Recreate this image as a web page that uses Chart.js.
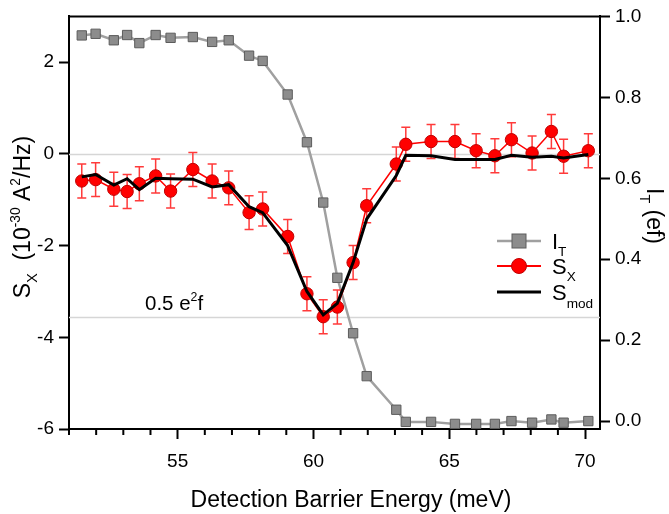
<!DOCTYPE html>
<html><head><meta charset="utf-8">
<script src="https://cdn.jsdelivr.net/npm/chart.js@4"></script>
<style>html,body{margin:0;padding:0;background:#fff}canvas{display:block}</style>
</head><body>
<canvas id="c" width="669" height="514"></canvas>
<script>
// ---- data ----
const energy = [51.47, 51.98, 52.65, 53.14, 53.59, 54.19, 54.74, 55.56, 56.27, 56.88, 57.63, 58.13, 59.05, 59.76, 60.36, 60.88, 61.46, 61.96, 63.05, 63.40, 64.33, 65.21, 65.99, 66.68, 67.29, 68.05, 68.76, 69.21, 70.12];
const currentIT = [0.953, 0.957, 0.941, 0.954, 0.934, 0.954, 0.947, 0.949, 0.937, 0.941, 0.903, 0.890, 0.807, 0.689, 0.540, 0.354, 0.217, 0.111, 0.028, -0.002, -0.002, -0.007, -0.007, -0.007, 0.000, -0.004, 0.004, -0.004, 0.000];
const noiseSX = [-0.59, -0.56, -0.77, -0.82, -0.65, -0.48, -0.81, -0.34, -0.59, -0.74, -1.28, -1.20, -1.80, -3.05, -3.55, -3.34, -2.37, -1.13, -0.22, 0.21, 0.27, 0.27, 0.07, -0.04, 0.31, 0.02, 0.49, -0.05, 0.07];
const noiseSXErr = [0.37, 0.37, 0.37, 0.37, 0.37, 0.37, 0.37, 0.37, 0.37, 0.37, 0.37, 0.37, 0.37, 0.37, 0.37, 0.37, 0.37, 0.37, 0.37, 0.37, 0.37, 0.37, 0.37, 0.37, 0.37, 0.37, 0.37, 0.37, 0.37];
const noiseSmod = [-0.50, -0.45, -0.68, -0.54, -0.78, -0.53, -0.54, -0.55, -0.72, -0.67, -1.15, -1.28, -2.00, -3.00, -3.51, -3.26, -2.37, -1.42, -0.47, -0.03, -0.04, -0.12, -0.12, -0.12, -0.03, -0.07, -0.05, -0.09, -0.01];
const xMajorTicks = [55, 60, 65, 70];
const leftTickValues = [-6, -4, -2, 0, 2];
const rightTickValues = [0.0, 0.2, 0.4, 0.6, 0.8, 1.0];
const refLevels = [0, -3.55];

const FF = '"Liberation Sans", Arial, Helvetica, sans-serif';

function drawRich(ctx, segs, x, y, angle, base, align) {
  ctx.save();
  ctx.translate(x, y);
  ctx.rotate(angle);
  ctx.textBaseline = 'alphabetic';
  ctx.textAlign = 'left';
  let total = 0;
  const widths = segs.map(s => { ctx.font = (base * (s.s || 1)) + 'px ' + FF; const w = ctx.measureText(s.t).width; total += w; return w; });
  let cx = align === 'left' ? 0 : -total / 2;
  segs.forEach((s, i) => {
    ctx.font = (base * (s.s || 1)) + 'px ' + FF;
    ctx.fillText(s.t, cx, (s.dy || 0) * base);
    cx += widths[i];
  });
  ctx.restore();
}

const deco = {
  id: 'deco',
  beforeDatasetsDraw(chart) {
    const { ctx, chartArea: a, scales: { y } } = chart;
    ctx.save();
    ctx.strokeStyle = '#d6d6d6';
    ctx.lineWidth = 1.5;
    refLevels.forEach(v => {
      const py = Math.round(y.getPixelForValue(v)) + 0.5;
      ctx.beginPath(); ctx.moveTo(a.left, py); ctx.lineTo(a.right, py); ctx.stroke();
    });
    ctx.restore();
  },
  beforeDatasetDraw(chart, args) {
    if (args.index !== 1) return;
    const meta = chart.getDatasetMeta(1);
    const y = chart.scales.y;
    const ctx = chart.ctx;
    ctx.save();
    ctx.strokeStyle = '#ff3a3a';
    ctx.lineWidth = 1.5;
    meta.data.forEach((pt, i) => {
      const px = pt.x;
      const y1 = y.getPixelForValue(noiseSX[i] + noiseSXErr[i]);
      const y2 = y.getPixelForValue(noiseSX[i] - noiseSXErr[i]);
      ctx.beginPath();
      ctx.moveTo(px, y1); ctx.lineTo(px, y2);
      ctx.moveTo(px - 4.5, y1); ctx.lineTo(px + 4.5, y1);
      ctx.moveTo(px - 4.5, y2); ctx.lineTo(px + 4.5, y2);
      ctx.stroke();
    });
    ctx.restore();
  },
  afterDraw(chart) {
    const { ctx, chartArea: a, scales: { x, y } } = chart;
    ctx.save();
    // top frame line
    ctx.strokeStyle = '#000'; ctx.lineWidth = 2;
    ctx.beginPath(); ctx.moveTo(a.left - 1, a.top); ctx.lineTo(a.right + 1, a.top); ctx.stroke();
    // minor x ticks
    for (let v = Math.ceil(x.min); v <= x.max; v++) {
      if (v % 5 === 0) continue;
      const px = x.getPixelForValue(v);
      ctx.beginPath(); ctx.moveTo(px, a.bottom); ctx.lineTo(px, a.bottom + 6); ctx.stroke();
    }
    ctx.fillStyle = '#000';
    // axis titles
    drawRich(ctx, [
      { t: 'S' }, { t: 'X', s: 0.62, dy: 0.3 }, { t: '  (10' }, { t: '-30', s: 0.6, dy: -0.42 },
      { t: ' A' }, { t: '2', s: 0.6, dy: -0.42 }, { t: '/Hz)' }
    ], 30, 217, -Math.PI / 2, 23);
    drawRich(ctx, [{ t: 'I' }, { t: 'T', s: 0.62, dy: 0.3 }, { t: ' (ef)' }], 647, 216, Math.PI / 2, 23);
    drawRich(ctx, [{ t: 'Detection Barrier Energy (meV)' }], 351, 507, 0, 23);
    // reference label
    const ly = y.getPixelForValue(refLevels[1]) - 7;
    drawRich(ctx, [{ t: '0.5 e' }, { t: '2', s: 0.6, dy: -0.42 }, { t: 'f' }], 145, ly, 0, 20.5, 'left');
    // legend
    const lx0 = 497, lx1 = 541, lmx = 519, ltx = 552;
    const rows = [241, 266, 292];
    ctx.lineWidth = 2.5; ctx.strokeStyle = '#a0a0a0';
    ctx.beginPath(); ctx.moveTo(lx0, rows[0]); ctx.lineTo(lx1, rows[0]); ctx.stroke();
    ctx.fillStyle = '#8c8c8c'; ctx.strokeStyle = '#5c5c5c'; ctx.lineWidth = 1;
    ctx.fillRect(lmx - 7, rows[0] - 7, 14, 14); ctx.strokeRect(lmx - 7, rows[0] - 7, 14, 14);
    ctx.lineWidth = 2; ctx.strokeStyle = '#ff0000';
    ctx.beginPath(); ctx.moveTo(lx0, rows[1]); ctx.lineTo(lx1, rows[1]); ctx.stroke();
    ctx.beginPath(); ctx.arc(lmx, rows[1], 7.5, 0, Math.PI * 2);
    ctx.fillStyle = '#ff0000'; ctx.fill(); ctx.strokeStyle = '#c00000'; ctx.lineWidth = 1; ctx.stroke();
    ctx.lineWidth = 3; ctx.strokeStyle = '#000';
    ctx.beginPath(); ctx.moveTo(lx0, rows[2]); ctx.lineTo(lx1, rows[2]); ctx.stroke();
    ctx.fillStyle = '#000';
    drawRich(ctx, [{ t: 'I' }, { t: 'T', s: 0.62, dy: 0.32 }], ltx, rows[0] + 8, 0, 22, 'left');
    drawRich(ctx, [{ t: 'S' }, { t: 'X', s: 0.62, dy: 0.32 }], ltx, rows[1] + 8, 0, 22, 'left');
    drawRich(ctx, [{ t: 'S' }, { t: 'mod', s: 0.62, dy: 0.36 }], ltx, rows[2] + 8, 0, 22, 'left');
    ctx.restore();
  }
};

const tickFont = { family: FF, size: 19 };

new Chart(document.getElementById('c'), {
  type: 'line',
  data: {
    datasets: [
      {
        label: 'I_T', yAxisID: 'y2', order: 3,
        data: energy.map((e, i) => ({ x: e, y: currentIT[i] })),
        borderColor: '#a0a0a0', borderWidth: 2.5,
        pointStyle: 'rect', pointRadius: 6.6, pointBackgroundColor: '#8c8c8c',
        pointBorderColor: '#5c5c5c', pointBorderWidth: 1
      },
      {
        label: 'S_X', yAxisID: 'y', order: 2,
        data: energy.map((e, i) => ({ x: e, y: noiseSX[i] })),
        borderColor: '#ff0000', borderWidth: 1.5,
        pointStyle: 'circle', pointRadius: 6.2, pointBackgroundColor: '#ff0000',
        pointBorderColor: '#c00000', pointBorderWidth: 1
      },
      {
        label: 'S_mod', yAxisID: 'y', order: 1,
        data: energy.map((e, i) => ({ x: e, y: noiseSmod[i] })),
        borderColor: '#000000', borderWidth: 3, pointRadius: 0
      }
    ]
  },
  options: {
    responsive: false, animation: false, devicePixelRatio: 1,
    layout: { padding: { top: 13, left: 0, right: 0, bottom: 0 } },
    plugins: { legend: { display: false }, tooltip: { enabled: false } },
    elements: { line: { tension: 0 } },
    scales: {
      x: {
        type: 'linear', position: 'bottom', min: 51, max: 70.55,
        afterFit(s) { s.height = 85; },
        border: { display: true, color: '#000', width: 2 },
        grid: {
          drawOnChartArea: false, drawTicks: true, tickLength: 10, tickWidth: 2,
          tickColor: c => (c.tick && xMajorTicks.includes(c.tick.value)) ? '#000' : 'rgba(0,0,0,0)'
        },
        ticks: {
          stepSize: 1, includeBounds: false, autoSkip: false, maxRotation: 0, minRotation: 0,
          color: '#000', font: tickFont, padding: 11,
          callback: v => xMajorTicks.includes(v) ? String(v) : ''
        }
      },
      y: {
        type: 'linear', position: 'left', min: -6, max: 3,
        afterFit(s) { s.width = 69; },
        border: { display: true, color: '#000', width: 2 },
        grid: { drawOnChartArea: false, drawTicks: true, tickLength: 10, tickWidth: 2, tickColor: '#000' },
        afterBuildTicks(s) { s.ticks = leftTickValues.map(v => ({ value: v })); },
        ticks: { color: '#000', font: tickFont, padding: 5, callback: v => String(v) }
      },
      y2: {
        type: 'linear', position: 'right', min: -0.0196, max: 1.0,
        afterFit(s) { s.width = 69; },
        border: { display: true, color: '#000', width: 2 },
        grid: { drawOnChartArea: false, drawTicks: true, tickLength: 10, tickWidth: 2, tickColor: '#000' },
        afterBuildTicks(s) { s.ticks = rightTickValues.map(v => ({ value: v })); },
        ticks: { color: '#000', font: tickFont, padding: 5, callback: v => Number(v).toFixed(1) }
      }
    }
  },
  plugins: [deco]
});
</script>
</body></html>
